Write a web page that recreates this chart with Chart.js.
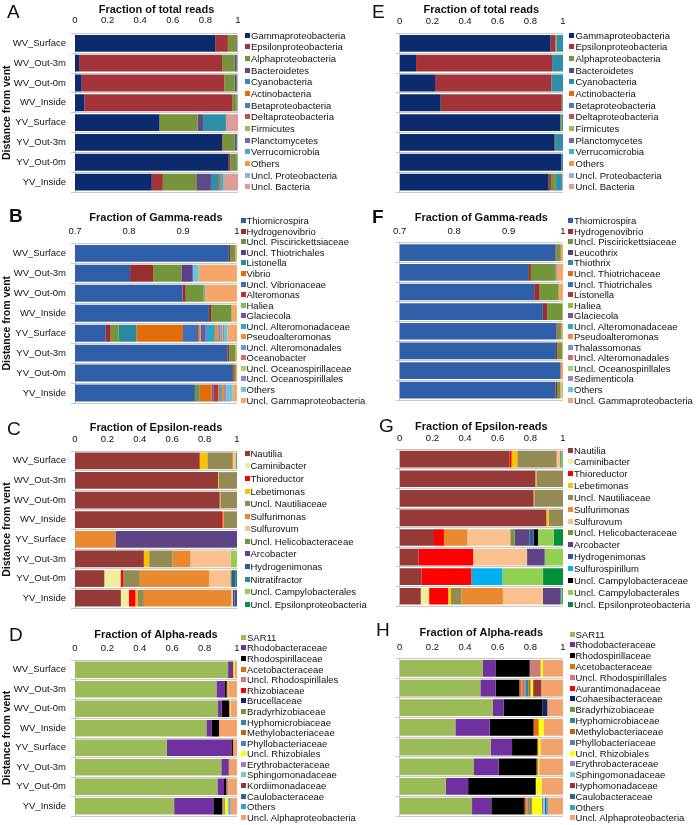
<!DOCTYPE html>
<html><head><meta charset="utf-8">
<script src="https://cdn.jsdelivr.net/npm/chart.js@4.4.1/dist/chart.umd.min.js"></script>
<style>
html,body{margin:0;padding:0;background:#fff;}
#root{position:relative;width:697px;height:825px;overflow:hidden;font-family:"Liberation Sans",Arial,sans-serif;color:#111;}
#root canvas{position:absolute;}
.lg{position:absolute;white-space:nowrap;font-size:9.5px;line-height:11px;color:#111;}
.sq{position:absolute;width:5px;height:5px;}
.letter{position:absolute;font-size:19px;line-height:19px;color:#111;}
</style></head>
<body><div id="root"></div>
<script>
// ---------- shared ----------
const categories = ['WV_Surface','WV_Out-3m','WV_Out-0m','WV_Inside','YV_Surface','YV_Out-3m','YV_Out-0m','YV_Inside'];
const ticksFull = [0, 0.2, 0.4, 0.6, 0.8, 1];
const ticksFullLabels = ['0','0.2','0.4','0.6','0.8','1'];
const ticksGamma = [0.7, 0.8, 0.9, 1];
const ticksGammaLabels = ['0.7','0.8','0.9','1'];
const yAxisTitle = 'Distance from vent';

// ---------- Panel A / E : fraction of total reads ----------
const totalSeries = ['Gammaproteobacteria','Epsilonproteobacteria','Alphaproteobacteria','Bacteroidetes','Cyanobacteria','Actinobacteria','Betaproteobacteria','Deltaproteobacteria','Firmicutes','Planctomycetes','Verrucomicrobia','Others','Uncl. Proteobacteria','Uncl. Bacteria'];
// rows = categories, columns = series
const totalA = [
  [0.860,0.078,0.050,0.004,0.003,0,0,0.001,0,0,0,0.001,0.001,0.002],
  [0.025,0.877,0.078,0.012,0.004,0,0,0.001,0,0,0,0.001,0.001,0.001],
  [0.041,0.875,0.064,0.008,0.006,0,0,0.001,0,0,0,0.002,0.001,0.002],
  [0.057,0.910,0.024,0.003,0.002,0,0,0.001,0,0,0,0.001,0.001,0.001],
  [0.518,0,0.234,0.033,0.141,0,0,0,0,0,0,0,0,0.074],
  [0.902,0.004,0.074,0.008,0.006,0,0,0,0,0,0,0.002,0.002,0.002],
  [0.943,0.010,0.040,0.002,0.002,0,0,0,0,0,0,0.001,0.001,0.001],
  [0.471,0.068,0.205,0.090,0.049,0.008,0,0,0,0.005,0.016,0.008,0.006,0.074]
];
const totalE = [
  [0.924,0.029,0.008,0,0.039,0,0,0,0,0,0,0,0,0],
  [0.100,0.833,0,0,0.067,0,0,0,0,0,0,0,0,0],
  [0.216,0.713,0,0,0.071,0,0,0,0,0,0,0,0,0],
  [0.251,0.741,0.004,0,0.004,0,0,0,0,0,0,0,0,0],
  [0.982,0,0.008,0,0.010,0,0,0,0,0,0,0,0,0],
  [0.949,0,0.008,0,0.043,0,0,0,0,0,0,0,0,0],
  [0.990,0,0,0,0.010,0,0,0,0,0,0,0,0,0],
  [0.912,0.014,0.030,0,0.037,0,0,0,0,0,0,0,0,0.007]
];
const totalColors = ['#0c2b6c','#a3353a','#77933c','#5f4a85','#2e8fa8','#e46c0a','#4a7cc0','#c0504d','#9bbb59','#8064a2','#4bacc6','#f79646','#95b3d7','#dd9c9a'];

// ---------- Panel B : Gamma reads (WV/YV set 1) ----------
const gammaSeriesB = ['Thiomicrospira','Hydrogenovibrio','Uncl. Piscirickettsiaceae','Uncl. Thiotrichales','Listonella','Vibrio','Uncl. Vibrionaceae','Alteromonas','Haliea','Glaciecola','Uncl. Alteromonadaceae','Pseudoalteromonas','Uncl. Alteromonadales','Oceanobacter','Uncl. Oceanospirillaceae','Uncl. Oceanospirillales','Others','Uncl. Gammaproteobacteria'];
const gammaB = [
  [0.985,0.003,0.009,0,0,0,0,0,0,0,0,0,0,0,0,0,0,0.003],
  [0.802,0.043,0.052,0.021,0,0,0,0,0,0,0,0,0,0,0,0,0.011,0.071],
  [0.899,0.006,0.033,0,0.002,0,0,0,0,0,0,0,0,0,0,0,0,0.060],
  [0.948,0.004,0.038,0,0,0,0,0,0,0,0,0,0,0,0,0,0,0.010],
  [0.757,0.009,0.015,0,0.033,0.086,0.026,0.003,0.004,0.009,0.017,0.006,0.005,0.002,0.002,0.002,0.006,0.018],
  [0.982,0.004,0.011,0,0,0,0,0,0,0,0,0,0,0,0,0,0,0.003],
  [0.991,0.003,0.004,0,0,0,0,0,0,0,0,0,0,0,0,0,0,0.002],
  [0.922,0,0.006,0,0.002,0.023,0.003,0.009,0.002,0.002,0.003,0.004,0.002,0.002,0,0,0.012,0.008]
];
const gammaColorsB = ['#2f5fa8','#9a2e2e','#73963a','#5c3f86','#2b8a9e','#e36c0a','#3a70c0','#c03030','#8db84a','#7a52a8','#2ea6c4','#f28a2e','#6f98d0','#d66d6d','#a9d06f','#9b84c4','#6cc3dd','#f5a66a'];

// ---------- Panel F : Gamma reads (set 2) ----------
const gammaSeriesF = ['Thiomicrospira','Hydrogenovibrio','Uncl. Piscirickettsiaceae','Leucothrix','Thiothrix','Uncl. Thiotrichaceae','Uncl. Thiotrichales','Listonella','Haliea','Glaciecola','Uncl. Alteromonadaceae','Pseudoalteromonas','Thalassomonas','Uncl. Alteromonadales','Uncl. Oceanospirillales','Sedimenticola','Others','Uncl. Gammaproteobacteria'];
const gammaF = [
  [0.986,0.002,0.008,0,0,0,0,0,0,0,0,0,0,0,0,0,0,0.004],
  [0.936,0.005,0.045,0,0,0,0.002,0,0,0,0,0,0,0,0,0,0,0.012],
  [0.947,0.010,0.035,0,0,0,0,0,0,0,0,0,0,0,0,0,0,0.008],
  [0.963,0.008,0.028,0,0,0,0,0,0,0,0,0,0,0,0,0,0,0.001],
  [0.988,0.002,0.007,0,0,0,0,0,0,0,0,0,0,0,0,0,0,0.003],
  [0.987,0.003,0.008,0,0,0,0,0,0,0,0,0,0,0,0,0,0,0.002],
  [0.995,0,0,0,0,0.002,0,0,0,0,0,0,0,0,0,0,0,0.003],
  [0.986,0.003,0.006,0,0,0,0,0,0,0,0,0,0,0,0.002,0,0,0.003]
];
const gammaColorsF = ['#2f5fa8','#9a2e2e','#73963a','#5c3f86','#2b8a9e','#d0702a','#3a70c0','#c03030','#8db84a','#7a52a8','#2ea6c4','#f28a2e','#6f98d0','#d66d6d','#a9d06f','#9b84c4','#6cc3dd','#f5a66a'];

// ---------- Panel C : Epsilon reads (set 1) ----------
const epsSeriesC = ['Nautilia','Caminibacter','Thioreductor','Lebetimonas','Uncl. Nautiliaceae','Sulfurimonas','Sulfurovum','Uncl. Helicobacteraceae','Arcobacter','Hydrogenimonas','Nitratifractor','Uncl. Campylobacterales','Uncl. Epsilonproteobacteria'];
const epsC = [
  [0.770,0,0,0.047,0.152,0.006,0.015,0,0,0,0,0.005,0.005],
  [0.883,0,0,0.004,0.113,0,0,0,0,0,0,0,0],
  [0.893,0,0,0.004,0.103,0,0,0,0,0,0,0,0],
  [0.901,0,0.010,0.004,0.085,0,0,0,0,0,0,0,0],
  [0,0,0,0,0,0.250,0,0,0.750,0,0,0,0],
  [0.425,0,0,0.033,0.144,0.111,0.248,0.004,0,0,0,0.035,0],
  [0.181,0.100,0.016,0,0.103,0.427,0.132,0.010,0,0.020,0.005,0,0.006],
  [0.283,0.050,0.040,0.012,0.040,0.540,0.010,0,0.010,0.015,0,0,0]
];
const epsColorsC = ['#963a37','#eeee9c','#ff0000','#ffc000','#948a54','#e98a30','#fac090','#77933c','#5e4484','#2f5a9a','#31859c','#92d050','#009a3e'];

// ---------- Panel G : Epsilon reads (set 2) ----------
const epsSeriesG = ['Nautilia','Caminibacter','Thioreductor','Lebetimonas','Uncl. Nautiliaceae','Sulfurimonas','Sulfurovum','Uncl. Helicobacteraceae','Arcobacter','Hydrogenimonas','Sulfurospirillum','Uncl. Campylobacteraceae','Uncl. Campylobacterales','Uncl. Epsilonproteobacteria'];
const epsG = [
  [0.673,0,0.012,0.035,0.240,0.004,0.018,0,0.004,0,0,0,0.010,0.004],
  [0.831,0,0,0.006,0.163,0,0,0,0,0,0,0,0,0],
  [0.820,0,0,0.004,0.176,0,0,0,0,0,0,0,0,0],
  [0.898,0,0,0.014,0.088,0,0,0,0,0,0,0,0,0],
  [0.210,0,0.061,0,0,0.143,0.263,0.027,0.092,0.024,0,0.027,0.096,0.057],
  [0.116,0,0.333,0,0,0,0.331,0,0.108,0,0,0,0.112,0],
  [0.133,0,0.306,0,0,0,0,0,0,0,0.190,0,0.249,0.122],
  [0.129,0.051,0.116,0.016,0.065,0.255,0.245,0,0.108,0.004,0,0,0.006,0.005]
];
const epsColorsG = ['#963a37','#eeee9c','#ff0000','#ffc000','#948a54','#e98a30','#fac090','#77933c','#5e4484','#2f5a9a','#00b0f0','#000000','#92d050','#00913a'];

// ---------- Panel D : Alpha reads (set 1) ----------
const alphaSeriesD = ['SAR11','Rhodobacteraceae','Rhodospirillaceae','Acetobacteraceae','Uncl. Rhodospirillales','Rhizobiaceae','Brucellaceae','Bradyrhizobiaceae','Hyphomicrobiaceae','Methylobacteriaceae','Phyllobacteriaceae','Uncl. Rhizobiales','Erythrobacteraceae','Sphingomonadaceae','Kordiimonadaceae','Caulobacteraceae','Others','Uncl. Alphaproteobacteria'];
const alphaD = [
  [0.945,0.024,0.004,0.005,0,0,0,0,0,0,0,0.006,0,0,0,0,0,0.016],
  [0.873,0.049,0.014,0.004,0.006,0,0,0,0,0,0,0.002,0,0,0,0,0,0.052],
  [0.883,0.023,0.045,0.004,0,0,0,0,0,0,0,0.004,0,0,0,0,0,0.041],
  [0.811,0.031,0.047,0,0,0,0,0,0,0,0,0,0,0,0,0,0,0.111],
  [0.567,0.398,0.010,0.004,0,0,0,0,0,0,0,0,0,0,0,0,0,0.021],
  [0.903,0.045,0.002,0.004,0,0,0,0,0,0,0,0,0,0,0,0,0,0.046],
  [0.879,0.041,0.014,0,0.012,0,0,0,0,0,0,0,0,0,0,0,0,0.054],
  [0.612,0.242,0.055,0.004,0.004,0,0,0.004,0.003,0.002,0,0.016,0.004,0.006,0,0.004,0.004,0.040]
];
const alphaColorsD = ['#9bbb59','#7030a0','#000000','#e46c0a','#cf7b79','#ff0000','#14256b','#77933c','#31859c','#b9651c','#4f81bd','#ffff00','#9983b5','#7fc4d8','#953735','#376092','#2fa3bf','#f2a36c'];

// ---------- Panel H : Alpha reads (set 2) ----------
const alphaSeriesH = ['SAR11','Rhodobacteraceae','Rhodospirillaceae','Acetobacteraceae','Uncl. Rhodospirillales','Aurantimonadaceae','Cohaesibacteraceae','Bradyrhizobiaceae','Hyphomicrobiaceae','Methylobacteriaceae','Phyllobacteriaceae','Uncl. Rhizobiales','Erythrobacteraceae','Sphingomonadaceae','Hyphomonadaceae','Caulobacteraceae','Others','Uncl. Alphaproteobacteria'];
const alphaH = [
  [0.510,0.076,0.210,0,0.067,0,0,0,0,0,0,0.014,0,0,0,0,0,0.123],
  [0.494,0.094,0.145,0.012,0.024,0,0,0,0.020,0.012,0,0.016,0,0,0.050,0,0,0.133],
  [0.571,0.065,0.237,0,0,0,0.031,0,0,0,0,0,0,0,0,0,0,0.096],
  [0.341,0.210,0.269,0.031,0,0,0,0,0,0,0,0.031,0,0,0,0,0,0.118],
  [0.557,0.131,0.153,0,0,0,0,0,0,0.008,0,0.012,0,0,0,0,0,0.139],
  [0.455,0.151,0.231,0,0,0.006,0,0.004,0,0,0,0.008,0,0,0,0,0.004,0.141],
  [0.282,0.137,0.414,0,0,0,0,0,0,0,0,0.035,0,0,0,0,0,0.132],
  [0.443,0.118,0.204,0.012,0.008,0,0,0.008,0.004,0.010,0.004,0.060,0.008,0.010,0,0.008,0.010,0.093]
];
const alphaColorsH = ['#9bbb59','#7030a0','#000000','#e46c0a','#cf7b79','#ff0000','#14256b','#77933c','#31859c','#b9651c','#4f81bd','#ffff00','#9983b5','#7fc4d8','#953735','#376092','#2fa3bf','#f2a36c'];

// ---------- layout ----------
const FAM = '"Liberation Sans", Arial, sans-serif';
const panels = [
  {letter:'A',bold:false,lx:7,ly:11.7,col:0,showY:true,title:'Fraction of total reads',series:totalSeries,rows:totalA,colors:totalColors,ticks:ticksFull,tickLabels:ticksFullLabels,
   titleY:10,tickY:20.5,plotLeft:75,plotRight:238,plotTop:33.4,plotBottom:191.6,legSq:245,legText:251,legY0:35,legStep:11.69},
  {letter:'E',bold:false,lx:372,ly:11.5,col:348,showY:false,title:'Fraction of total reads',series:totalSeries,rows:totalE,colors:totalColors,ticks:ticksFull,tickLabels:ticksFullLabels,
   titleY:10,tickY:21,plotLeft:399.7,plotRight:563,plotTop:33.4,plotBottom:191.6,legSq:569,legText:575.5,legY0:35,legStep:11.69},
  {letter:'B',bold:true,lx:9,ly:215.5,col:0,showY:true,title:'Fraction of Gamma-reads',series:gammaSeriesB,rows:gammaB,colors:gammaColorsB,ticks:ticksGamma,tickLabels:ticksGammaLabels,
   titleY:218.3,tickY:231.7,plotLeft:75,plotRight:237.3,plotTop:243.4,plotBottom:402.6,legSq:240.7,legText:246.5,legY0:220.7,legStep:10.55},
  {letter:'F',bold:true,lx:372,ly:216.5,col:348,showY:false,title:'Fraction of Gamma-reads',series:gammaSeriesF,rows:gammaF,colors:gammaColorsF,ticks:ticksGamma,tickLabels:ticksGammaLabels,
   titleY:218.3,tickY:231.7,plotLeft:399.7,plotRight:563,plotTop:242.9,plotBottom:400.2,legSq:568,legText:574,legY0:220.7,legStep:10.55},
  {letter:'C',bold:false,lx:7,ly:428.3,col:0,showY:true,title:'Fraction of Epsilon-reads',series:epsSeriesC,rows:epsC,colors:epsColorsC,ticks:ticksFull,tickLabels:ticksFullLabels,
   titleY:427.7,tickY:439.3,plotLeft:75,plotRight:237.3,plotTop:451,plotBottom:607.6,legSq:245,legText:250.5,legY0:453.3,legStep:12.58},
  {letter:'G',bold:false,lx:379,ly:424.8,col:348,showY:false,title:'Fraction of Epsilon-reads',series:epsSeriesG,rows:epsG,colors:epsColorsG,ticks:ticksFull,tickLabels:ticksFullLabels,
   titleY:426.7,tickY:438.3,plotLeft:399.7,plotRight:563,plotTop:449.4,plotBottom:605.6,legSq:568,legText:574,legY0:450,legStep:11.85},
  {letter:'D',bold:false,lx:9,ly:634.5,col:0,showY:true,title:'Fraction of Alpha-reads',series:alphaSeriesD,rows:alphaD,colors:alphaColorsD,ticks:ticksFull,tickLabels:ticksFullLabels,
   titleY:634.7,tickY:648.7,plotLeft:75,plotRight:237.3,plotTop:660,plotBottom:815.7,legSq:241,legText:247,legY0:637.3,legStep:10.59},
  {letter:'H',bold:false,lx:376,ly:629.5,col:348,showY:false,title:'Fraction of Alpha-reads',series:alphaSeriesH,rows:alphaH,colors:alphaColorsH,ticks:ticksFull,tickLabels:ticksFullLabels,
   titleY:633,tickY:647.3,plotLeft:399.7,plotRight:563,plotTop:658.5,plotBottom:816,legSq:569.7,legText:575.5,legY0:634,legStep:10.82}
];

const root = document.getElementById('root');
const RPAD = 16, BPAD = 14;

function makePanel(p){
  const L = p.col, T = Math.floor(p.titleY - 10);
  const W = Math.round(p.plotRight - L) + RPAD;
  const H = Math.round(p.plotBottom - T) + BPAD;
  const cv = document.createElement('canvas');
  cv.width = W; cv.height = H;
  cv.style.left = L + 'px'; cv.style.top = T + 'px';
  cv.style.width = W + 'px'; cv.style.height = H + 'px';
  root.appendChild(cv);
  const yW = p.plotLeft - L, xH = p.plotTop - T;
  new Chart(cv, {
    type: 'bar',
    data: {
      labels: categories,
      datasets: p.series.map((name, i) => ({
        label: name,
        data: p.rows.map(r => r[i]),
        backgroundColor: p.colors[i],
        borderWidth: 0,
        barPercentage: 0.85,
        categoryPercentage: 1,
        clip: 0
      }))
    },
    options: {
      indexAxis: 'y',
      responsive: false,
      animation: false,
      devicePixelRatio: 1,
      layout: {padding: {top: 0, left: 0, right: W - Math.round(p.plotRight - L), bottom: H - Math.round(p.plotBottom - T)}},
      plugins: {legend: {display: false}, tooltip: {enabled: false}},
      scales: {
        x: {
          position: 'top', stacked: true,
          min: p.ticks[0], max: p.ticks[p.ticks.length - 1],
          afterBuildTicks: s => { s.ticks = p.ticks.map(v => ({value: v})); },
          afterFit: s => { s.height = xH; },
          ticks: {
            font: {family: FAM, size: 9.5}, color: '#111',
            padding: p.plotTop - p.tickY - 5.7, maxRotation: 0, autoSkip: false,
            callback: (v, i) => p.tickLabels[i]
          },
          grid: {display: false, drawTicks: false},
          border: {display: false},
          title: {display: true, text: p.title, color: '#111',
                  font: {family: FAM, size: 11, weight: 'bold'},
                  padding: {top: p.titleY - T - 6.6, bottom: 0}}
        },
        y: {
          stacked: true,
          afterFit: s => { s.width = yW; },
          ticks: {display: p.showY, font: {family: FAM, size: 9.5}, color: '#111', padding: 5},
          grid: {offset: true, color: '#c9c9c9', tickLength: 4, drawTicks: true},
          border: {display: true, color: '#c9c9c9'},
          title: {display: p.showY, text: yAxisTitle, color: '#111',
                  font: {family: FAM, size: 10.5, weight: 'bold'},
                  padding: {top: 1, bottom: 0}}
        }
      }
    }
  });

  // legend (built from the dataset names / colours)
  p.series.forEach((name, i) => {
    const y = p.legY0 + i * p.legStep;
    const sq = document.createElement('div');
    sq.className = 'sq';
    sq.style.left = p.legSq + 'px';
    sq.style.top = (y - 2.5) + 'px';
    sq.style.background = p.colors[i];
    root.appendChild(sq);
    const t = document.createElement('div');
    t.className = 'lg';
    t.style.left = p.legText + 'px';
    t.style.top = (y - 5.5) + 'px';
    t.textContent = name;
    root.appendChild(t);
  });

  const lt = document.createElement('div');
  lt.className = 'letter';
  lt.style.left = p.lx + 'px';
  lt.style.top = (p.ly - 9.3) + 'px';
  lt.style.fontWeight = p.bold ? 'bold' : 'normal';
  lt.textContent = p.letter;
  root.appendChild(lt);
}

panels.forEach(makePanel);
</script>
</body></html>
